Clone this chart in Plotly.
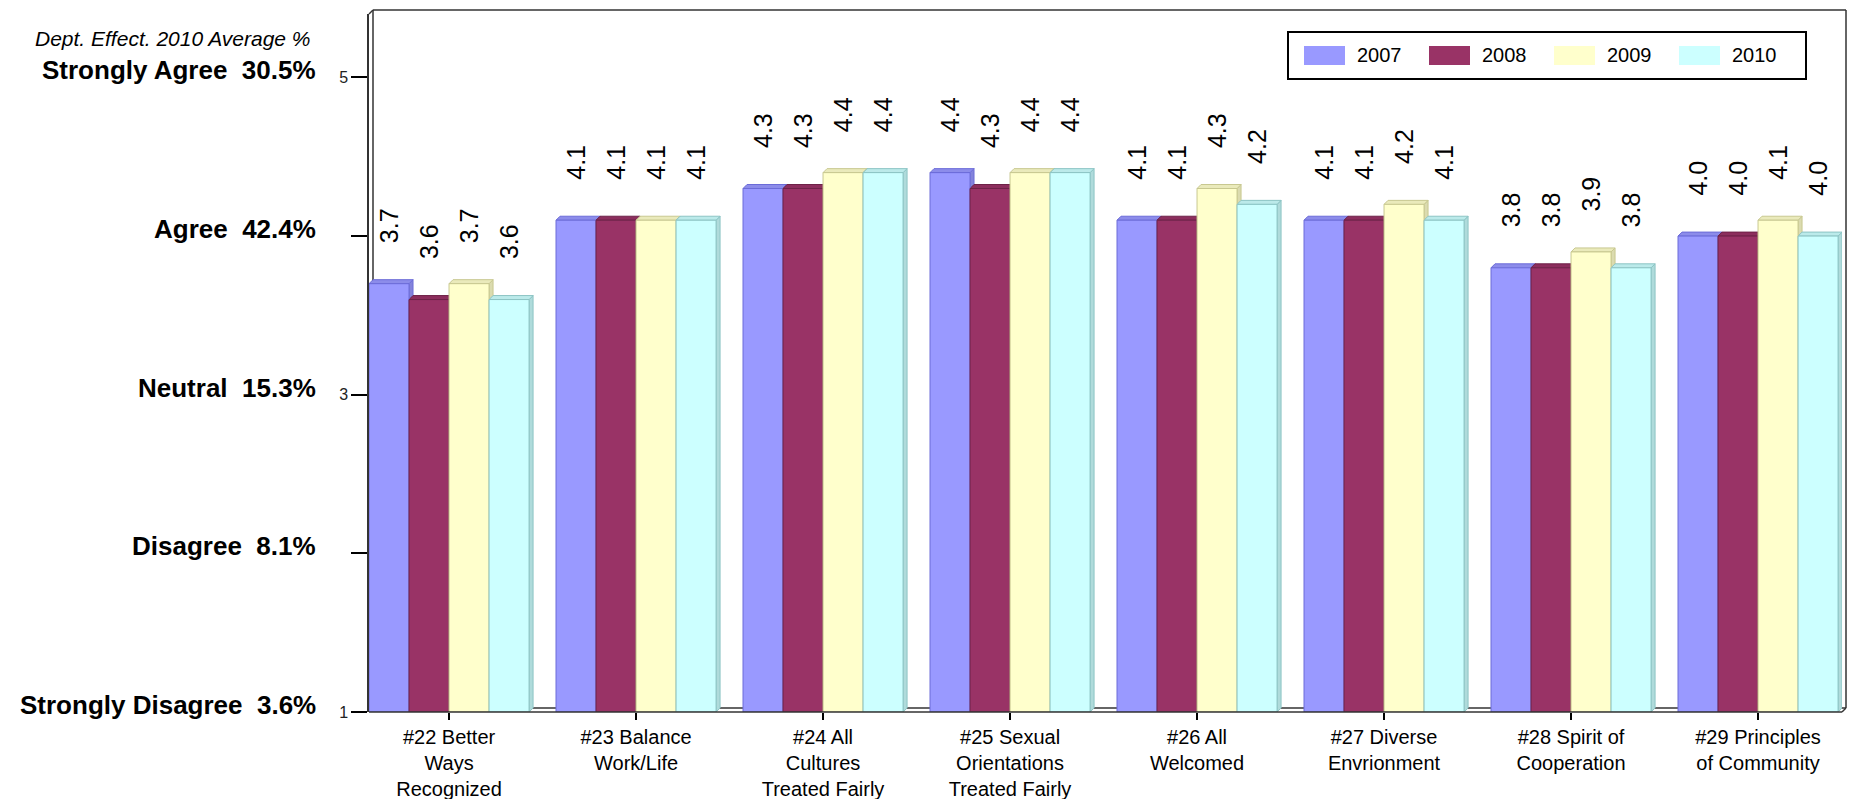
import plotly.graph_objects as go

# Survey items (x categories)
categories = [
    "#22 Better<br>Ways<br>Recognized",
    "#23 Balance<br>Work/Life",
    "#24 All<br>Cultures<br>Treated Fairly",
    "#25 Sexual<br>Orientations<br>Treated Fairly",
    "#26 All<br>Welcomed",
    "#27 Diverse<br>Envrionment",
    "#28 Spirit of<br>Cooperation",
    "#29 Principles<br>of Community",
]

# Mean score per item and year
years = ["2007", "2008", "2009", "2010"]
scores_2007 = [3.7, 4.1, 4.3, 4.4, 4.1, 4.1, 3.8, 4.0]
scores_2008 = [3.6, 4.1, 4.3, 4.3, 4.1, 4.1, 3.8, 4.0]
scores_2009 = [3.7, 4.1, 4.4, 4.4, 4.3, 4.2, 3.9, 4.1]
scores_2010 = [3.6, 4.1, 4.4, 4.4, 4.2, 4.1, 3.8, 4.0]
series = [scores_2007, scores_2008, scores_2009, scores_2010]

# Response scale and department 2010 share per level
scale_values = [1, 2, 3, 4, 5]
scale_ticks = ["1", "", "3", "", "5"]
scale_levels = ["Strongly Disagree", "Disagree", "Neutral", "Agree", "Strongly Agree"]
scale_pct = [3.6, 8.1, 15.3, 42.4, 30.5]

face_colors = ["#9999FF", "#993366", "#FFFFCC", "#CCFFFF"]
edge_colors = ["#6C6CD8", "#6E2248", "#C8C890", "#8CC4C4"]

FONT = "Liberation Sans, Arial, sans-serif"
W, H = 1852, 799
L, R, T, B = 369, 10, 14, 87
PW, PH = W - L - R, H - T - B
BARGAP = 0.144
Y_RANGE = [1, 5.4]
X_RANGE = [-0.428, 7.449]
DEPTH_PX = 4  # pseudo-3D depth of the columns


def shade(hex_color, f):
    h = hex_color.lstrip("#")
    r, g, b = (int(h[i:i + 2], 16) for i in (0, 2, 4))
    return "#%02x%02x%02x" % (int(r * f), int(g * f), int(b * f))


def px_x(px):
    return (px - L) / PW


def px_y(py):
    return (H - B - py) / PH


fig = go.Figure()
for year, vals, fc, ec in zip(years, series, face_colors, edge_colors):
    fig.add_trace(go.Bar(
        x=list(range(len(categories))), y=[v - Y_RANGE[0] for v in vals], base=Y_RANGE[0],
        name=year, marker=dict(color=fc, line=dict(color=ec, width=1)),
        showlegend=False, hoverinfo="skip",
    ))

shapes = []
annotations = []

# Column top and side faces, derived from the values on the data axes
x_per_px = (X_RANGE[1] - X_RANGE[0]) / PW
y_per_px = (Y_RANGE[1] - Y_RANGE[0]) / PH
dx, dy = DEPTH_PX * x_per_px, DEPTH_PX * y_per_px
bw = (1 - BARGAP) / len(years)
for i in range(len(categories)):
    for j, vals in enumerate(series):
        v = vals[i]
        x0 = i + (j - len(years) / 2) * bw
        x1 = x0 + bw
        side = f"M{x1},{Y_RANGE[0]} L{x1},{v} L{x1 + dx},{v + dy} L{x1 + dx},{Y_RANGE[0] + dy} Z"
        top = f"M{x0},{v} L{x1},{v} L{x1 + dx},{v + dy} L{x0 + dx},{v + dy} Z"
        shapes.append(dict(type="path", path=side, xref="x", yref="y", layer="below",
                           fillcolor=shade(face_colors[j], 0.86),
                           line=dict(color=edge_colors[j], width=1)))
        shapes.append(dict(type="path", path=top, xref="x", yref="y", layer="below",
                           fillcolor=shade(face_colors[j], 0.92),
                           line=dict(color=edge_colors[j], width=1)))
        annotations.append(dict(
            x=x0 + bw / 2, y=v, xref="x", yref="y", text=f"{v:.1f}", showarrow=False,
            textangle=-90, xanchor="center", yanchor="bottom", yshift=38,
            font=dict(family=FONT, size=25, color="#000000"),
        ))

# Wall / floor outline of the 3-D box
ox, oy = DEPTH_PX / PW, DEPTH_PX / PH
frame = "#333333"
for (xa, ya, xb, yb, layer) in [
    (ox, oy, ox, 1 + oy, "below"),
    (ox, oy, 1 + ox, oy, "below"),
    (ox, 1 + oy, 1 + ox, 1 + oy, "above"),
    (1 + ox, oy, 1 + ox, 1 + oy, "above"),
    (0, 1, ox, 1 + oy, "above"),
    (1, 0, 1 + ox, oy, "above"),
    (1, 0, 0, 0, "above"),
]:
    shapes.append(dict(type="line", xref="paper", yref="paper", x0=xa, y0=ya, x1=xb, y1=yb,
                       layer=layer, line=dict(color=frame, width=1.5)))

# Scale level labels at the left
for val, lvl, pct in zip(scale_values, scale_levels, scale_pct):
    annotations.append(dict(
        x=0, xref="paper", xshift=-51, y=val, yref="y", yshift=7,
        text=f"<b>{lvl}\u00a0\u00a0{pct:.1f}%</b>", showarrow=False,
        xanchor="right", yanchor="middle",
        font=dict(family=FONT, size=26, color="#000000"),
    ))
annotations.append(dict(
    x=0, xref="paper", xshift=-56, y=1, yref="paper", yshift=-24,
    text="<i>Dept. Effect. 2010 Average %</i>", showarrow=False,
    xanchor="right", yanchor="middle",
    font=dict(family=FONT, size=21, color="#000000"),
))

# Legend box
shapes.append(dict(type="rect", xref="paper", yref="paper",
                   x0=px_x(1288), x1=px_x(1806), y0=px_y(79), y1=px_y(32),
                   line=dict(color="#000000", width=2), fillcolor="#FFFFFF", layer="above"))
for k, (year, fc) in enumerate(zip(years, face_colors)):
    sx = 1304 + 125 * k
    shapes.append(dict(type="rect", xref="paper", yref="paper",
                       x0=px_x(sx), x1=px_x(sx + 41), y0=px_y(65), y1=px_y(46),
                       line=dict(color=fc, width=0), fillcolor=fc, layer="above"))
    annotations.append(dict(
        x=px_x(sx + 51), y=px_y(55), xref="paper", yref="paper", text=year,
        showarrow=False, xanchor="left", yanchor="middle",
        font=dict(family=FONT, size=20, color="#000000"),
    ))

fig.update_layout(
    width=W, height=H,
    margin=dict(l=L, r=R, t=T, b=B, pad=0, autoexpand=False),
    paper_bgcolor="#FFFFFF", plot_bgcolor="#FFFFFF",
    barmode="group", bargap=BARGAP, bargroupgap=0,
    shapes=shapes, annotations=annotations,
    showlegend=False,
    xaxis=dict(
        range=X_RANGE, tickmode="array", tickvals=list(range(len(categories))),
        ticktext=categories, ticks="outside", ticklen=7, tickwidth=1.5, tickcolor="#000000",
        showgrid=False, zeroline=False, showline=False, automargin=False,
        ticklabelstandoff=0,
        tickfont=dict(family=FONT, size=20, color="#000000"),
    ),
    yaxis=dict(
        range=Y_RANGE, tickmode="array", tickvals=scale_values, ticktext=scale_ticks,
        ticks="outside", ticklen=16, tickwidth=1.5, tickcolor="#000000",
        showgrid=False, zeroline=False, showline=True, linecolor="#333333", linewidth=1.5,
        automargin=False,
        tickfont=dict(family=FONT, size=16, color="#222222"),
    ),
    font=dict(family=FONT),
)

fig.write_html("out.html")
